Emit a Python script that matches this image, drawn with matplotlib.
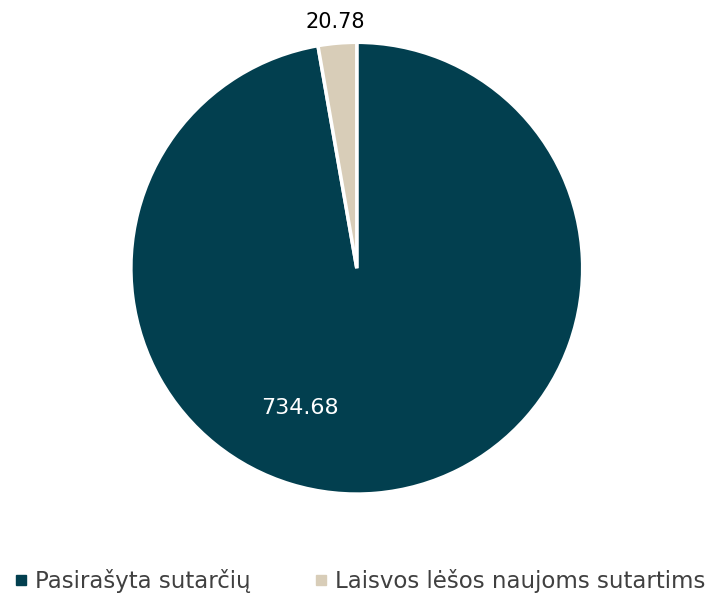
import matplotlib.pyplot as plt

labels = ['Pasirašyta sutarčių', 'Laisvos lėšos naujoms sutartims']
values = [734.68, 20.78]
colors = ['#023F4F', '#D8CDB8']

fig = plt.figure(figsize=(7.15, 5.96), dpi=100)
ax = fig.add_axes([0.499 - 0.316, 0.55 - 0.379, 0.632, 0.758])

wedges, _ = ax.pie(values, colors=colors, startangle=90, counterclock=False,
                   wedgeprops=dict(edgecolor='white', linewidth=2.5))
ax.set_xlim(-1, 1)
ax.set_ylim(-1, 1)
ax.set_aspect('equal')

# label placement as in the original (not on mid angle)
ax.text(-0.252, -0.62, f'{values[0]:.2f}', color='white', fontsize=16,
        ha='center', va='center')
ax.text(-0.097, 1.088, f'{values[1]:.2f}', color='black', fontsize=15,
        ha='center', va='center')

handles = [plt.Line2D([], [], marker='s', linestyle='', markersize=7,
                      color=c) for c in colors]
fig.legend(handles, labels, loc='lower center', ncol=2, frameon=False,
           bbox_to_anchor=(0.5, -0.03), fontsize=16.5, handletextpad=0.1,
           columnspacing=2.6, labelcolor='#404040', handlelength=1.0)

fig.savefig('out.png', dpi=100)
